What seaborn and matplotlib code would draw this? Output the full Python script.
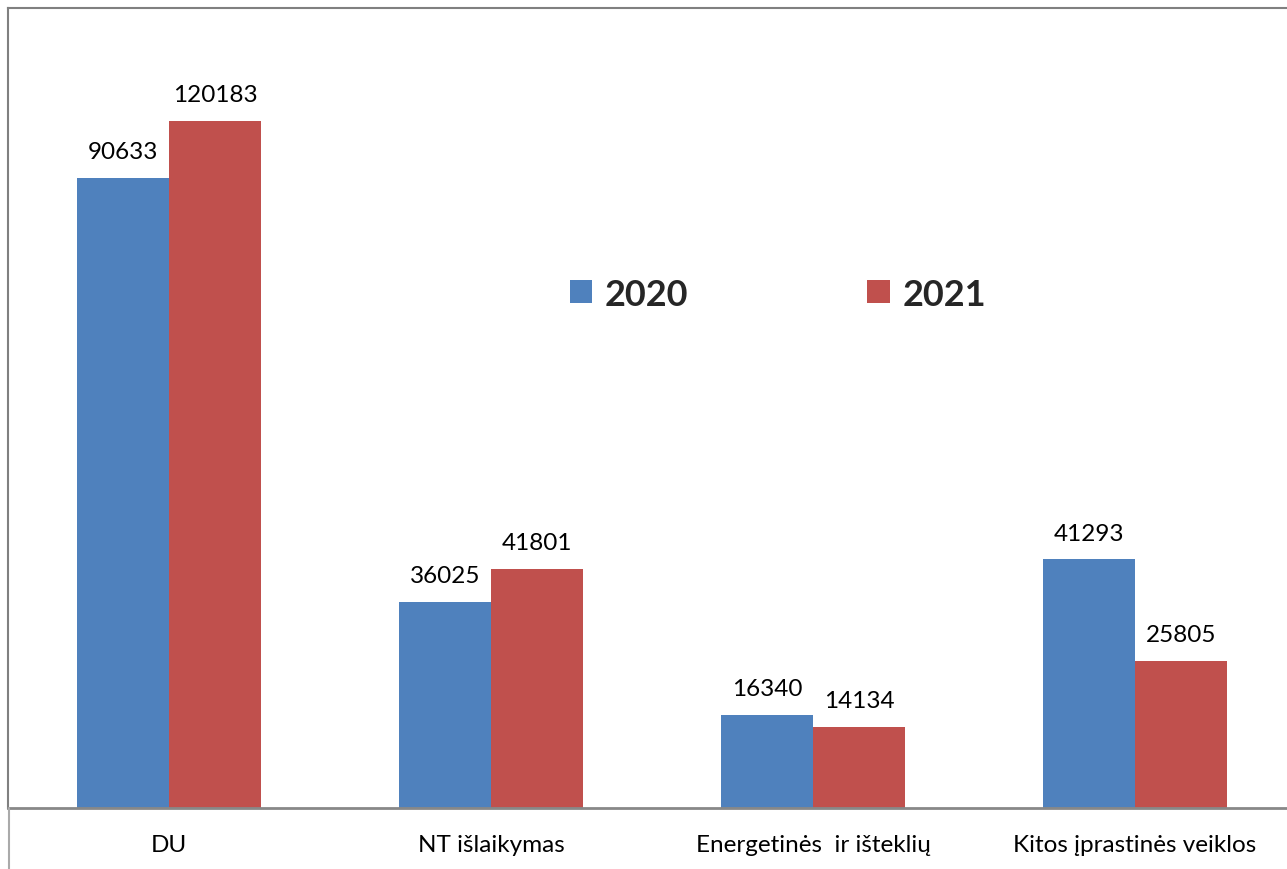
import matplotlib
matplotlib.use("Agg")
import matplotlib.pyplot as plt
import seaborn as sns
import pandas as pd
from matplotlib.lines import Line2D
from matplotlib.patches import Patch

categories = ["DU", "NT išlaikymas", "Energetinės  ir išteklių", "Kitos įprastinės veiklos"]
years = ["2020", "2021"]
# bar heights as drawn in the picture
heights_2020 = [110300, 36025, 16340, 43500]
heights_2021 = [120183, 41801, 14134, 25805]
# printed data labels
labels_2020 = ["90633", "36025", "16340", "41293"]
labels_2021 = ["120183", "41801", "14134", "25805"]

colors = ["#4F81BD", "#C0504D"]

df = pd.DataFrame({
    "cat": categories * 2,
    "year": [years[0]] * 4 + [years[1]] * 4,
    "value": heights_2020 + heights_2021,
    "label": labels_2020 + labels_2021,
})

sns.set_theme(style="white")
plt.rcParams["font.family"] = ["Lato", "DejaVu Sans"]

W, H = 1287, 870
fig = plt.figure(figsize=(W / 100, H / 100), dpi=100)
ax = fig.add_axes([8 / W, (H - 809) / H, 1288 / W, 800 / H])

sns.barplot(data=df, x="cat", y="value", hue="year", order=categories,
            hue_order=years, palette=colors, width=0.572, gap=0,
            saturation=1, edgecolor="none", linewidth=0, ax=ax, legend=False)

ax.set_xlim(-0.5, 3.5)
ax.set_ylim(0, 140000)
ax.set_xlabel("")
ax.set_ylabel("")
ax.set_yticks([])

# data labels
for container, labs in zip(ax.containers, [labels_2020, labels_2021]):
    for bar, lab in zip(container, labs):
        ax.annotate(lab, (bar.get_x() + bar.get_width() / 2, bar.get_height()),
                    xytext=(0, 19), textcoords="offset points",
                    ha="center", va="center", fontsize=17.5, color="#000000")

# axis styling
ax.set_xticks(range(len(categories)))
ax.set_xticklabels(categories, fontsize=17.5, color="#000000")
ax.tick_params(axis="x", which="major", length=0, pad=19)
ax.set_xticks([-0.5, 0.5, 1.5, 2.5, 3.5], minor=True)
ax.tick_params(axis="x", which="minor", length=9, width=1.5, color="#888888", direction="out")
for s in ["left", "top"]:
    ax.spines[s].set_color("#808080")
    ax.spines[s].set_linewidth(1.5)
ax.spines["right"].set_visible(False)
ax.spines["bottom"].set_color("#888888")
ax.spines["bottom"].set_linewidth(2)

# chart border below the axis
fig.add_artist(Line2D([8.5 / W, 8.5 / W], [0, (H - 809) / H], transform=fig.transFigure,
                      color="#AAAAAA", linewidth=1.5))

# legend
handles = [Patch(facecolor=c, edgecolor="none") for c in colors]
leg = ax.legend(handles, years, ncol=2, frameon=False,
                loc="center", bbox_to_anchor=((778 - 8) / 1288, (809 - 295) / 800),
                prop={"family": ["Lato", "DejaVu Sans"], "weight": "bold", "size": 26},
                handlelength=0.62, handleheight=0.62, handletextpad=0.35,
                columnspacing=4.95)

fig.savefig("out.png", dpi=100)
